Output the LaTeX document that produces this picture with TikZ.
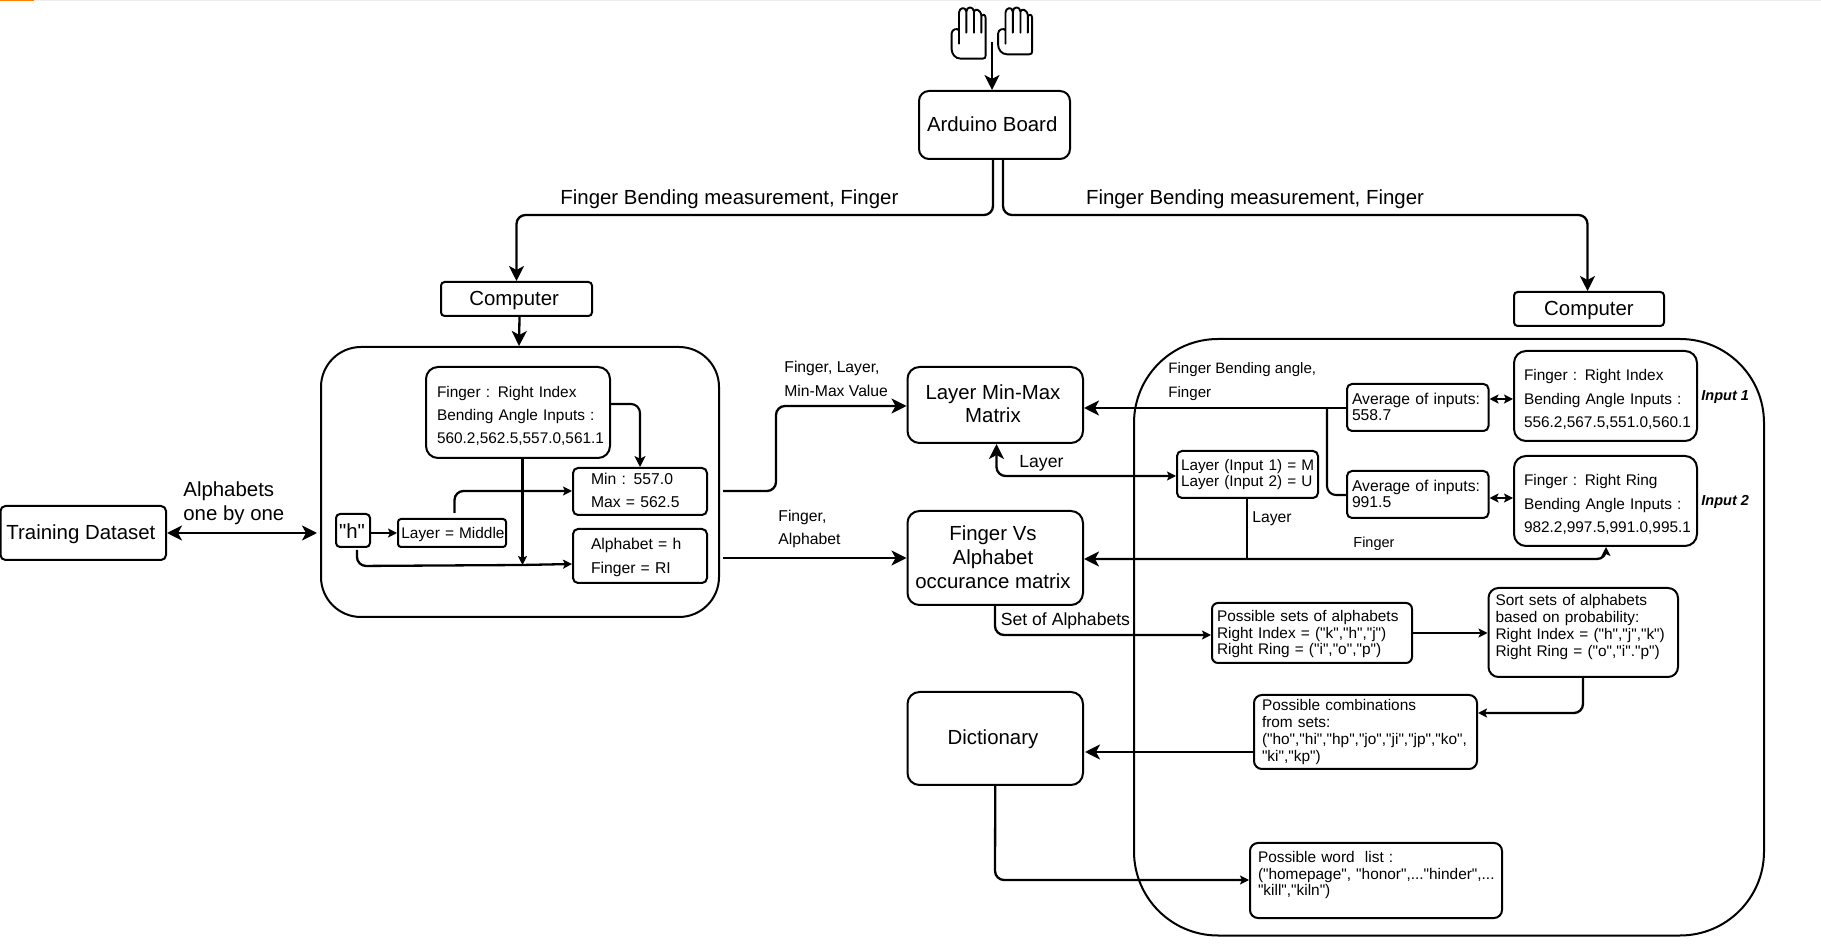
\documentclass[tikz,border=0pt]{standalone}
\usepackage{fontspec}
\setmainfont{Liberation Sans}
\newfontfamily\plainf{Liberation Sans}
\usetikzlibrary{arrows.meta,calc}
\newcommand{\fz}[2]{\plainf\fontsize{#1pt}{#2pt}\selectfont}
\newcommand{\dn}[1]{\rule{0pt}{\dimexpr0.72em+2\dimexpr#1pt\relax\relax}}
\newcommand{\upb}[1]{\rule[-#1pt]{0pt}{#1pt}}
\newcommand{\bk}{\kern2.3pt}
\newcommand{\bbox}[7]{%
  \pgfmathsetmacro\bw{(#4-#2)*0.5}\pgfmathsetmacro\bh{(#5-#3)*0.5}%
  \pgfmathsetmacro\bcx{(#2+#4)/2}\pgfmathsetmacro\bcy{(#3+#5)/2}%
  \node[#6,minimum width=\bw pt,minimum height=\bh pt] (#1) at (\bcx,\bcy) {#7};}
\newcommand{\handshape}[1]{%
  \draw[line width=0.95pt,line join=round,line cap=round]
    (117,88) -- (117,35) .. controls (117,20) and (137,15) .. (139,32)
    .. controls (140,15) and (160,15) .. (162,32)
    .. controls (164,22) and (182,24) .. (184,44)
    .. controls (188,38) and (197,40) .. (197,52)
    -- (197,#1-10) .. controls (197,#1-3) and (195,#1) .. (188,#1)
    -- (122,#1) .. controls (105,#1) and (95,#1-15) .. (95,#1-28)
    -- (95,97) .. controls (95,85) and (112,80) .. (117,88)
    (117,88) -- (117,128) (139,32) -- (139,95) (162,32) -- (162,95) (184,44) -- (184,95);}
\tikzset{
  x=0.5pt,y=-0.5pt,
  bigtip/.tip={Stealth[length=7.5pt,width=7.5pt,inset=2pt]},
  midtip/.tip={Stealth[length=5.5pt,width=5.5pt,inset=1.4pt]},
  smalltip/.tip={Stealth[length=4.5pt,width=4.5pt,inset=1pt]},
  ln/.style={line width=1.05pt,rounded corners=4.5pt},
  thick ln/.style={line width=1.15pt,rounded corners=4.5pt},
  rbox/.style={draw,line width=1pt,rounded corners=#1,inner sep=0pt},
  rbox/.default=3pt,
  lbox/.style n args={4}{draw,line width=1pt,rounded corners=#1,inner xsep=#2,inner ysep=0pt,
     align=left,text width=\bw pt-2*#2,font={\fz{#4}{#3}}},
  cbox/.style 2 args={draw,line width=1pt,rounded corners=#1,inner sep=0pt,align=center,font={\fz{10.2}{#2}}},
  lbl/.style={inner sep=0pt,anchor=west,align=left,font={\fz{#1}{#1}}},
  lbl2/.style 2 args={inner sep=0pt,anchor=west,align=left,font={\fz{#1}{#2}}},
}
\begin{document}
\begin{tikzpicture}
\useasboundingbox (0,0) rectangle (1821,945);
\fill[black!7] (0,0) rectangle (1821,1);
\fill[orange] (0,0) rectangle (34,1);
\begin{scope}[yshift=-0.5pt]
% hands
\begin{scope}[shift={(920,0)},x=0.16667pt,y=-0.16667pt]
  \handshape{173}
\end{scope}
\begin{scope}[shift={(966.5,0)},x=0.16667pt,y=-0.16667pt]
  \handshape{160}
\end{scope}
\coordinate (handtip) at (992,41);
% containers
\bbox{leftc}{321}{346}{719}{616}{rbox=20pt}{}
\bbox{rightc}{1134}{338}{1764}{934.5}{rbox=42pt}{}
% top
\bbox{ard}{919}{90}{1070}{158}{cbox={5pt}{12}}{Arduino Board\bk\upb{1}}
\bbox{cl}{441}{281}{592}{315}{cbox={1.8pt}{12}}{\dn{.65}Computer\bk}
\bbox{cr}{1514}{291}{1664}{325}{cbox={1.8pt}{12}}{\dn{.65}Computer}
\bbox{train}{0.5}{505}{166}{559}{cbox={2.5pt}{12}}{\dn{.65}Training Dataset\bk}
% left container contents
\bbox{fing}{426}{366}{610}{457}{lbox={6pt}{5.5pt}{11.5}{7.7}}{\dn{1.5}Finger : Right Index\\\mbox{Bending Angle Inputs :}\\\mbox{560.2,562.5,557.0,561.1}}
\bbox{minb}{573}{467}{707}{514}{lbox={2.5pt}{9pt}{11.5}{7.85}}{Min : 557.0\\Max = 562.5\upb{1}}
\bbox{alph}{573}{528}{707}{582}{lbox={2.5pt}{9pt}{12}{7.85}}{\dn{.8}Alphabet = h\\Finger = RI}
\bbox{hb}{336}{513}{370}{546}{cbox={2pt}{12}}{\dn{.5}"h"\kern1pt}
\bbox{laym}{398}{518}{506}{546}{lbox={1.5pt}{1.7pt}{9}{7.7}}{\dn{1}\mbox{Layer = Middle}}
% matrices
\bbox{mm}{907.5}{366}{1083}{442}{cbox={6pt}{11.5}}{Layer Min-Max\bk\\Matrix\bk\upb{1}}
\bbox{fv}{907.5}{510}{1083}{604}{cbox={6pt}{12}}{Finger Vs\bk\\Alphabet\bk\\occurance matrix\bk\upb{1}}
\bbox{dict}{907.5}{691}{1083}{784}{cbox={6pt}{12}}{\dn{.5}Dictionary\bk}
% right container contents
\bbox{av1}{1347}{383}{1488.5}{430}{lbox={2.5pt}{2.5pt}{8}{7.85}}{\mbox{Average of inputs:}\\558.7\upb{1}}
\bbox{av2}{1347}{470}{1488.5}{517}{lbox={2.5pt}{2.5pt}{8}{7.85}}{\mbox{Average of inputs:}\\991.5\upb{1}}
\bbox{in1}{1514}{350}{1697}{440}{lbox={6pt}{5pt}{11.7}{7.7}}{\dn{1.8}Finger : Right Index\\\mbox{Bending Angle Inputs :}\\\mbox{556.2,567.5,551.0,560.1}}
\bbox{in2}{1514}{455}{1697}{545}{lbox={6pt}{5pt}{11.7}{7.7}}{\dn{1.8}Finger : Right Ring\\\mbox{Bending Angle Inputs :}\\\mbox{982.2,997.5,991.0,995.1}}
\bbox{lay}{1177}{450}{1318}{497}{lbox={2.5pt}{2pt}{8}{7.65}}{\mbox{Layer (Input 1) = M}\\\mbox{Layer (Input 2) = U}}
\bbox{poss}{1212}{602}{1412}{662}{lbox={3pt}{2.5pt}{8.3}{7.7}}{\dn{.65}\mbox{Possible sets of alphabets}\\\mbox{Right Index = ("k","h","j")}\\\mbox{Right Ring = ("i","o","p")}}
\bbox{sort}{1488.5}{587}{1678}{676}{lbox={5pt}{3.5pt}{8.5}{7.7}}{\dn{.65}Sort sets of alphabets\\based on probability:\\\mbox{Right Index = ("h","j","k")}\\\mbox{Right Ring = ("o","i"."p")}\\\mbox{}}
\bbox{comb}{1254}{694}{1477}{768}{lbox={4pt}{4pt}{8.4}{7.7}}{Possible combinations\\from sets:\\\mbox{("ho","hi","hp","jo","ji","jp","ko",}\\"ki","kp")}
\bbox{word}{1250}{842}{1502}{917}{lbox={4pt}{4pt}{8.3}{7.7}}{\dn{.65}Possible word\ \ list :\\\mbox{("homepage", "honor",..."hinder",...}\\"kill","kiln")\\\mbox{}}
% labels
\node[lbl=10.2,anchor=center] (tl) at (729.4,198.5) {Finger Bending measurement, Finger};
\node[lbl=10.2,anchor=center] (tr) at (1255,198.5) {Finger Bending measurement, Finger};
\node[lbl2={10.2}{12}] (abo) at (183,502) {Alphabets\\one by one};
\node[lbl2={7.85}{12}] (fl) at (784,378) {Finger, Layer,\\Min-Max Value};
\node[lbl2={7.85}{11.5}] (fa) at (778,528) {Finger,\\Alphabet};
\node[lbl2={7.55}{12}] (fba) at (1168,381) {Finger Bending angle,\\Finger};
\node[lbl=8.8] (ll) at (1019,462) {Layer};
\node[lbl=7.85] (ll2) at (1252,518) {Layer};
\node[lbl=7.25] (ff) at (1353,543) {Finger};
\node[lbl=8.8] (soa) at (1000.5,620) {Set of Alphabets};
\node[lbl=7.25,font={\fz{7.25}{7.25}\bfseries\itshape}] (i1) at (1701,396) {Input 1};
\node[lbl=7.25,font={\fz{7.25}{7.25}\bfseries\itshape}] (i2) at (1701,501) {Input 2};
% free ends
\coordinate (out1) at (723,490);
\coordinate (out2) at (723,557);
% connectors: top
\draw[ln,-bigtip] (handtip) -- (handtip |- ard.north);
\draw[thick ln,-bigtip] (ard.south -| 993,0) -- (993,214) -- (516.5,214) -- (cl.north);
\draw[thick ln,-bigtip] (ard.south -| 1003,0) -- (1003,214) -- (1587.5,214) -- (cr.north -| 1587.5,0);
\draw[thick ln,-bigtip] (cl.south) ++(3,0) -- (leftc.north -| 519,0);
\draw[thick ln,{bigtip}-{bigtip}] (train.east |- 0,532) -- (317,532);
% connectors: left container
\draw[ln,-midtip] (fing.east |- 0,403) -- (640,403) -- (minb.north -| 640,0);
\draw[ln,-smalltip] (fing.south -| 522.5,0) -- (522.5,564);
\draw[thick ln,-smalltip] (hb.east |- 0,532) -- (laym.west |- 0,532);
\draw[thick ln,-smalltip] (454.5,512) -- (454.5,490) -- (minb.west |- 0,490);
\draw[thick ln,-smalltip] (357,549) -- (357,565) -- (522,564) -- (alph.west |- 0,563);
% out of left container
\draw[thick ln,-bigtip] (out1) -- (776,490) -- (776,405) -- (mm.west |- 0,405);
\draw[thick ln,-bigtip] (out2) -- (fv.west |- out2);
% right side
\draw[thick ln,-bigtip] (av1.west |- 0,407) -- (mm.east |- 0,407);
\draw[ln] (1327,407) -- (1327,494) -- (av2.west |- 0,494);
\draw[thick ln,{smalltip}-{smalltip}] (av1.east |- 0,398) -- (in1.west |- 0,398);
\draw[thick ln,{smalltip}-{smalltip}] (av2.east |- 0,497) -- (in2.west |- 0,497);
\draw[thick ln,{bigtip}-{smalltip}] (mm.south -| 996.5,0) -- (996.5,475) -- (lay.west |- 0,475);
\draw[thick ln,{bigtip}-{smalltip}] (fv.east |- 0,558) -- (1606,558) -- (in2.south -| 1606,0);
\draw[ln] (lay.south -| 1247,0) -- (1247,558);
\draw[thick ln,-smalltip] (995,604) -- (995,634) -- (poss.west |- 0,634);
\draw[thick ln,-smalltip] (poss.east |- 0,632) -- (sort.west |- 0,632);
\draw[thick ln,-smalltip] (sort.south -| 1583,0) -- (1583,712) -- (comb.east |- 0,712);
\draw[thick ln,-bigtip] (comb.west |- 0,751) -- (1085,751);
\draw[thick ln,-smalltip] (dict.south) -- (995,879) -- (word.west |- 0,879);
\end{scope}
\end{tikzpicture}
\end{document}
